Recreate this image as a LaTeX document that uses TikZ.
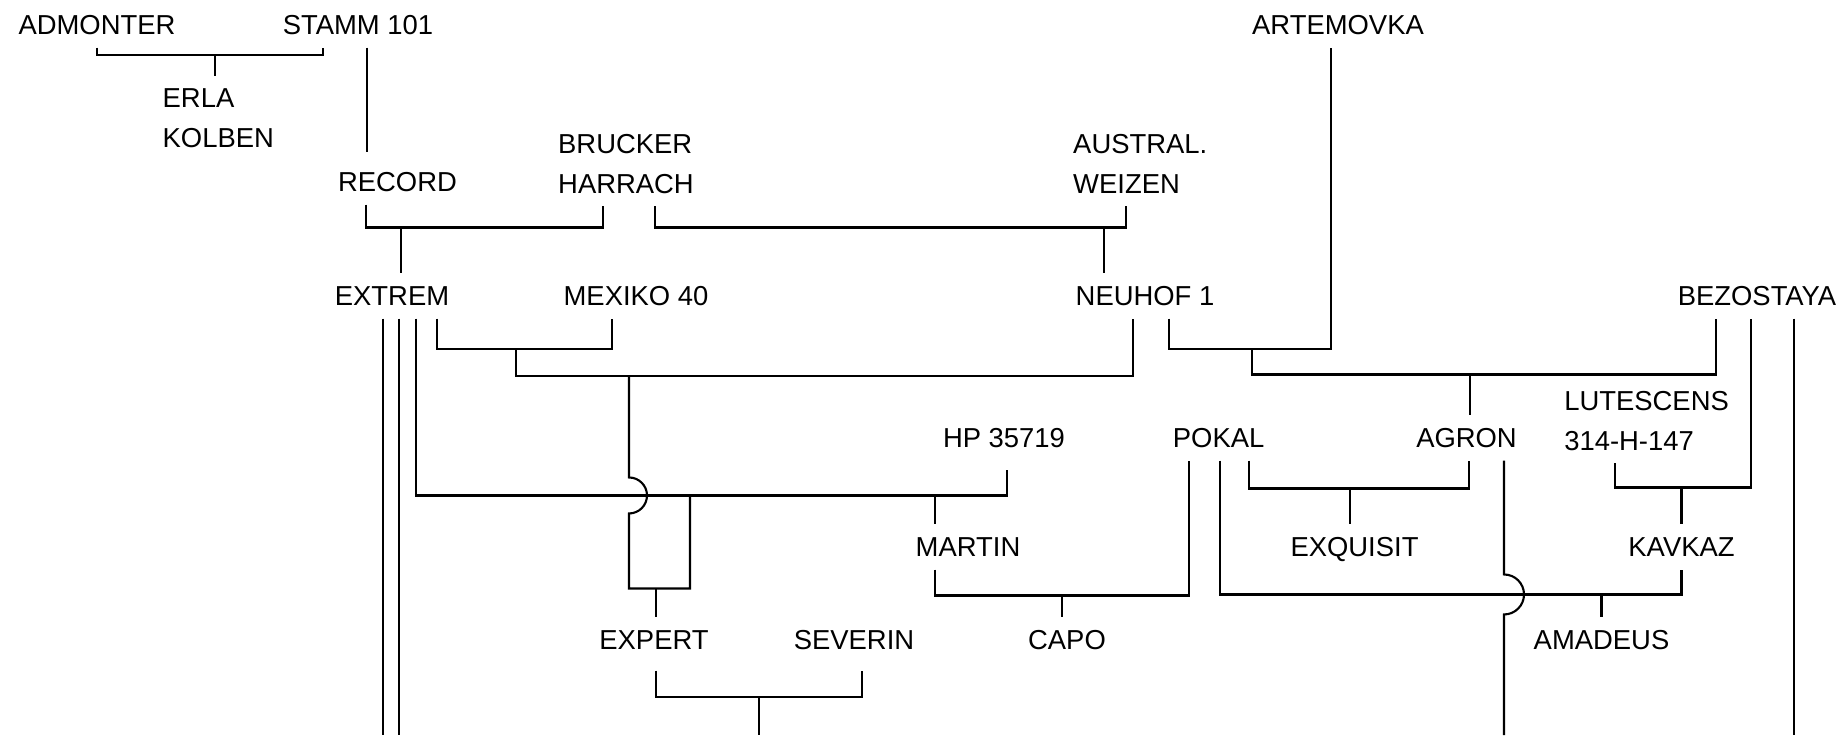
\documentclass[tikz,border=0pt]{standalone}
\usepackage{fontspec}
\setmainfont{Liberation Sans}
\usetikzlibrary{calc}
\tikzset{
    line/.style  = {semithick},
    cv/.style    = {inner xsep=0pt, inner ysep=1.2mm,
                    font=\fontsize{7.8}{11.4}\selectfont,
                    text height=1.97mm, text depth=0pt},
    cvtwo/.style = {inner xsep=0pt, inner ysep=1.2mm, anchor=west,
                    font=\fontsize{7.8}{11.4}\selectfont, align=left}
}
\newcommand{\cross}[5]{%
    \coordinate (#3-bar) at ($(#3.north)+(#4,#5)$);
    \draw[line] #1 |- (#3-bar) -| #2;
    \draw[line] (#3-bar) -- (#3-bar |- #3.north);
}
\def\toprow{-0.25}
\def\recordrow{-1.82}
\def\extremrow{-2.96}
\def\pokalrow{-4.38}
\def\martinrow{-5.47}
\def\expertrow{-6.40}

\begin{document}
\begin{tikzpicture}
\useasboundingbox (0,0) rectangle (18.45,-7.35);
\coordinate (bottom) at (0,-7.35);

% Varieties, row by row.
\node[cv] (adm) at (0.97,\toprow) {ADMONTER};
\node[cv] (stamm) at (3.58,\toprow) {STAMM 101};
\node[cv] (artem) at (13.38,\toprow) {ARTEMOVKA};
\node[cvtwo] (erla) at (1.62,-1.185) {ERLA\\KOLBEN};
\node[cvtwo] (brucker) at (5.575,-1.64) {BRUCKER\\HARRACH};
\node[cvtwo] (austral) at (10.725,-1.64) {AUSTRAL.\\WEIZEN};
\node[cv] (record) at (3.975,\recordrow) {RECORD};
\node[cv] (extrem) at (3.92,\extremrow) {EXTREM};
\node[cv] (mexiko) at (6.36,\extremrow) {MEXIKO 40};
\node[cv] (neuhof) at (11.45,\extremrow) {NEUHOF 1};
\node[cv] (bezo) at (17.57,\extremrow) {BEZOSTAYA};
\node[cv] (hp) at (10.04,\pokalrow) {HP 35719};
\node[cv] (pokal) at (12.186,\pokalrow) {POKAL};
\node[cv] (agron) at (14.665,\pokalrow) {AGRON};
\node[cvtwo] (lutes) at (15.636,-4.21) {LUTESCENS\\314-H-147};
\node[cv] (martin) at (9.68,\martinrow) {MARTIN};
\node[cv] (exq) at (13.545,\martinrow) {EXQUISIT};
\node[cv] (kavkaz) at (16.815,\martinrow) {KAVKAZ};
\node[cv] (expert) at (6.54,\expertrow) {EXPERT};
\node[cv] (severin) at (8.54,\expertrow) {SEVERIN};
\node[cv] (capo) at (10.67,\expertrow) {CAPO};
\node[cv] (amadeus) at (16.015,\expertrow) {AMADEUS};

% Upper crosses.
\cross{(adm.south)}{($(stamm.south)+(-0.35,0)$)}{erla}{-0.03}{0.21}
\draw[line] ($(stamm.south)+(0.09,0)$) coordinate (stamm-leg)
    -- ([yshift=0.7mm]stamm-leg |- record.north);
\cross{($(record.south)+(-0.315,0)$)}{($(brucker.south west)+(0.455,0)$)}{extrem}{0.09}{0.46}
\cross{($(brucker.south west)+(0.975,0)$)}{($(austral.south west)+(0.535,0)$)}{neuhof}{-0.41}{0.46}

% Neuhof 1 x Artemovka, then x Bezostaya.
\coordinate (neuart) at ($(neuhof.south)+(1.07,-0.30)$);
\draw[line] ($(neuhof.south)+(0.24,0)$) |- (neuart) -| ($(artem.south)+(-0.07,0)$);
\cross{(neuart)}{($(bezo.south)+(-0.41,0)$)}{agron}{0.035}{0.41}

% Extrem x Mexiko 40, then x Neuhof 1.
\coordinate (extmex) at ($(extrem.south)+(1.24,-0.30)$);
\draw[line] ($(extrem.south)+(0.45,0)$) |- (extmex) -| ($(mexiko.south)+(-0.24,0)$);
\coordinate (emn) at ($(extmex)+(1.13,-0.27)$);
\draw[line] (extmex) |- (emn) -| ($(neuhof.south)+(-0.12,0)$);

% Lower crosses.
\cross{($(extrem.south)+(0.24,0)$)}{($(hp.south)+(0.03,-0.09)$)}{martin}{-0.33}{0.29}
\coordinate (expert-bar) at ($(expert.north)+(0.02,0.29)$);
\draw[line] (emn) -- ($(emn |- martin-bar)+(0,0.18)$)
    arc[start angle=90, end angle=-90, radius=1.8mm]
    -- (emn |- expert-bar) -| ($(martin-bar)+(-2.45,0)$);
\draw[line] (expert-bar) -- (expert-bar |- expert.north);
\cross{($(martin.south)+(-0.33,0)$)}{($(pokal.south)+(-0.296,0)$)}{capo}{-0.05}{0.22}
\cross{($(pokal.south)+(0.30,0)$)}{($(agron.south)+(0.025,0)$)}{exq}{-0.045}{0.36}
\cross{($(lutes.south west)+(0.51,0)$)}{($(bezo.south)+(-0.06,0)$)}{kavkaz}{0}{0.37}
\cross{($(pokal.south)+(0.01,0)$)}{(kavkaz.south)}{amadeus}{0}{0.23}
\draw[line] ($(agron.south)+(0.375,0)$) coordinate (agron-leg)
    -- ($(agron-leg |- amadeus-bar)+(0,0.2)$)
    arc[start angle=90, end angle=-90, radius=2mm] -- (agron-leg |- bottom);

% Expert x Severin, and the lines running off the bottom.
\coordinate (expsev) at ($(expert.south)+(1.046,-0.34)$);
\draw[line] ($(expert.south)+(0.02,-0.08)$) |- (expsev) -| ($(severin.south)+(0.08,-0.08)$);
\draw[line] (expsev) -- (expsev |- bottom);
\draw[line] ($(extrem.south)+(-0.09,0)$) coordinate (extrem-a) -- (extrem-a |- bottom);
\draw[line] ($(extrem.south)+(0.07,0)$) coordinate (extrem-b) -- (extrem-b |- bottom);
\draw[line] ($(bezo.south)+(0.37,0)$) coordinate (bezo-c) -- (bezo-c |- bottom);

\end{tikzpicture}
\end{document}
